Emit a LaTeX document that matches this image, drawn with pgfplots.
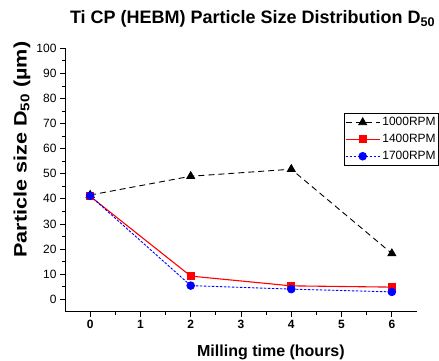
\documentclass[border=0pt]{standalone}
\usepackage{pgfplots}
\pgfplotsset{compat=1.18}
\usepackage{fontspec}
\setmainfont{Liberation Sans}
\begin{document}
\begin{tikzpicture}
\path[use as bounding box] (-65pt,-48.3pt) rectangle (374pt,311.7pt);
\begin{axis}[
  at={(0,0)}, anchor=south west,
  scale only axis, width=352pt, height=263.4pt,
  xmin=-0.5, xmax=6.5, ymin=-5, ymax=100,
  axis x line*=bottom, axis y line*=left,
  axis line style={line width=0.8pt},
  tick align=outside,
  major tick length=5pt, minor tick length=3pt,
  every tick/.style={line width=0.8pt, black},
  xtick={0,1,2,3,4,5,6}, minor x tick num=1,
  ytick={0,10,...,100}, minor y tick num=1,
  /pgf/number format/assume math mode=true,
  tick label style={font=\fontsize{12}{14}\selectfont},
  xticklabel style={font=\fontsize{12}{14}\selectfont\bfseries},
  title={\textbf{Ti CP (HEBM) Particle Size Distribution D\textsubscript{50}}},
  title style={font=\fontsize{18}{20}\selectfont, at={(axis description cs:0.533,1.071)}, anchor=base},
  xlabel={\textbf{Milling time (hours)}},
  xlabel style={font=\fontsize{16}{18}\selectfont, at={(axis description cs:0.585,-0.1707)}, anchor=base},
  ylabel={\scalebox{1.2}[1]{\textbf{Particle size D\textsubscript{50} (µm)}}},
  ylabel style={font=\fontsize{18}{20}\selectfont, at={(axis description cs:-0.109,0.615)}, anchor=base, rotate=0},
  legend style={at={(axis description cs:1.0625,0.7535)}, anchor=north east,
    draw=black, line width=0.6pt, font=\fontsize{12}{14}\selectfont,
    inner xsep=1pt, inner ysep=2pt, row sep=3pt},
  legend cell align=left,
  legend image code/.code={\draw[#1,mark repeat=2,mark phase=2] plot coordinates {(0cm,0cm) (0.6cm,0cm) (1.2cm,0cm)};},
]
\addplot[black, line width=0.9pt, dash pattern=on 6pt off 4pt, mark=triangle*, mark size=4.5pt, mark options={solid}]
  coordinates {(0,41.5) (2,49) (4,51.8) (6,18.2)};
\addlegendentry{1000RPM}
\addplot[red, line width=1.1pt, mark=square*, mark size=3.5pt, mark options={solid}]
  coordinates {(0,41) (2,9.2) (4,5.3) (6,4.8)};
\addlegendentry{1400RPM}
\addplot[blue, line width=0.9pt, dash pattern=on 2.5pt off 1.5pt, mark=*, mark size=3.8pt, mark options={solid}]
  coordinates {(0,41.2) (2,5.4) (4,4) (6,2.9)};
\addlegendentry{1700RPM}
\end{axis}
\end{tikzpicture}
\end{document}
